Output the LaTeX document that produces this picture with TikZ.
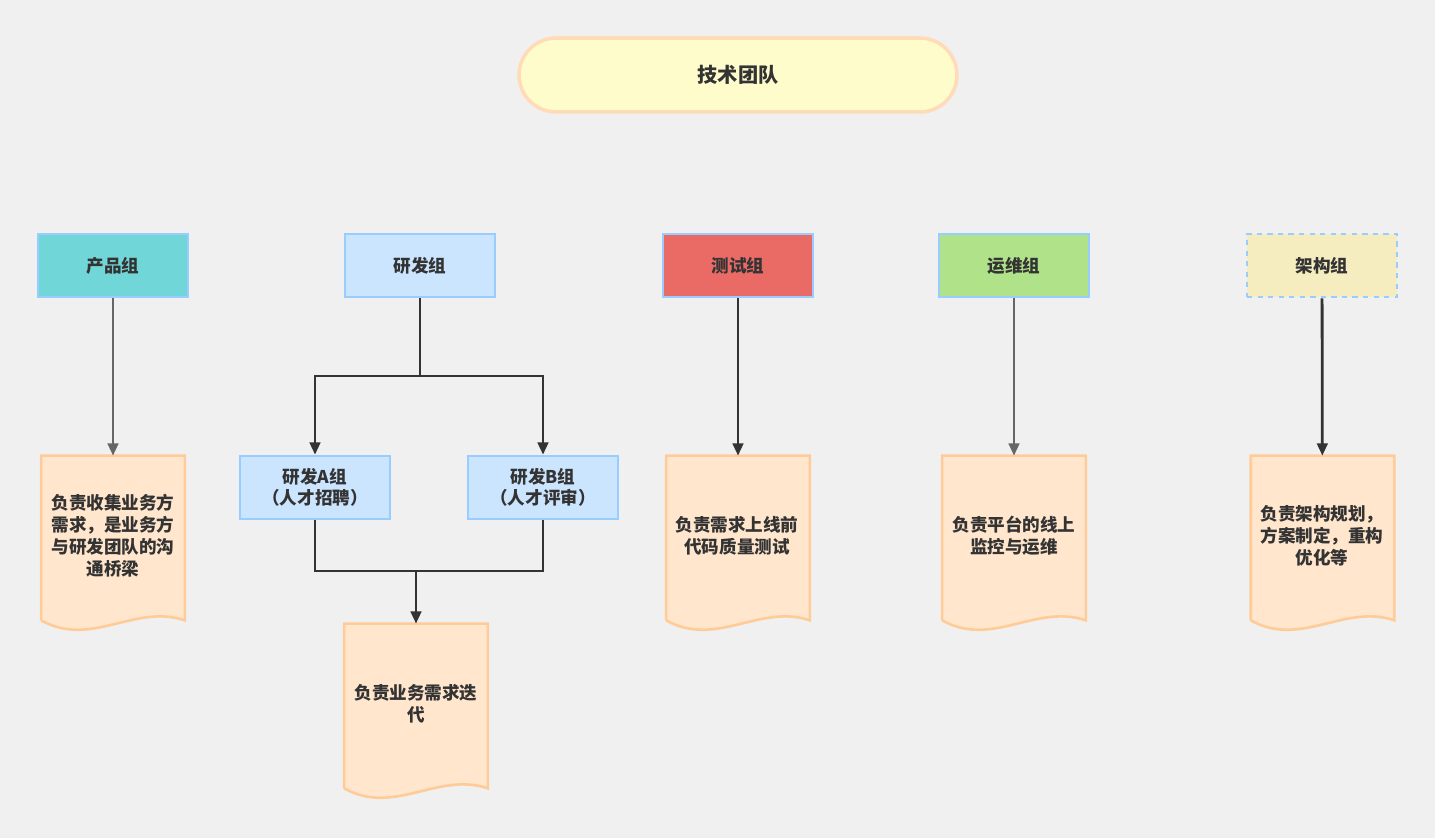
\documentclass[tikz,border=0pt]{standalone}
\usepackage{fontspec}
\setmainfont{Noto Sans CJK SC}
\usetikzlibrary{positioning,arrows.meta,calc}
\definecolor{bgc}{HTML}{F0F0F0}
\definecolor{txt}{HTML}{333333}
\definecolor{blueline}{HTML}{99CCFF}
\definecolor{docfill}{HTML}{FFE6CC}
\definecolor{docline}{HTML}{FFCC99}
\tikzset{
  box/.style={draw=blueline, line width=1.5pt, minimum width=3cm, minimum height=1.26cm,
    font=\bfseries\fontsize{10}{12}\selectfont, text=txt, align=center},
  doc/.style={minimum width=2.86cm, minimum height=3.54cm, inner sep=0pt},
  doctext/.style={text=txt, font=\bfseries\fontsize{10}{12.5}\selectfont, align=center},
  link/.style={line width=1.6pt, -{Triangle[length=7pt,width=6pt]}},
}
\newcommand{\docpath}[1]{%
  \fill[docfill] (#1.north west) -- (#1.north east) -- ($(#1.south east)+(0,-13)$)
    .. controls ($(#1.south east)+(-50,-30)$) and ($(#1.south west)+(50,15)$) .. ($(#1.south west)+(0,-13)$) -- cycle;
  \draw[docline, line width=1.5pt] ($(#1.south west)+(0,-13)$) -- (#1.north west) -- (#1.north east) -- ($(#1.south east)+(0,-13)$)
    .. controls ($(#1.south east)+(-50,-30)$) and ($(#1.south west)+(50,15)$) .. ($(#1.south west)+(0,-13)$);}
\begin{document}
\begin{tikzpicture}[x=0.02cm,y=-0.02cm]
\fill[bgc] (0,0) rectangle (1435,838);
\useasboundingbox (0,0) rectangle (1435,838);

% title
\node[draw=docline!70, line width=2pt, fill=yellow!20, rounded corners=0.74cm,
  minimum width=8.76cm, minimum height=1.48cm, text=txt,
  font=\bfseries\fontsize{11.5}{13}\selectfont] (team) at (738,75) {技术团队};

% groups
\node[box, fill={rgb,255:red,112;green,214;blue,216}] (prod) at (113,265.5) {产品组};
\node[box, fill={rgb,255:red,204;green,229;blue,255}] (dev) at (420,265.5) {研发组};
\node[box, fill={rgb,255:red,234;green,107;blue,102}] (test) at (738,265.5) {测试组};
\node[box, fill={rgb,255:red,176;green,226;blue,138}] (ops) at (1014,265.5) {运维组};
\node[box, dashed, fill={rgb,255:red,245;green,237;blue,192}] (arch) at (1322,265.5) {架构组};

\node[box, fill={rgb,255:red,204;green,229;blue,255}] (devA) at (315,487.5) {研发A组\\（人才招聘）};
\node[box, fill={rgb,255:red,204;green,229;blue,255}] (devB) at (543,487.5) {研发B组\\（人才评审）};

% documents
\node[doc] (prodDoc) at (113,544.5) {}; \docpath{prodDoc}
\node[doctext] (prodTxt) at (113,536) {负责收集业务方\\需求，是业务方\\与研发团队的沟\\通桥梁};
\node[doc] (devDoc) at (416,712.5) {}; \docpath{devDoc}
\node[doctext] (devTxt) at (416,704) {负责业务需求迭\\代};
\node[doc] (testDoc) at (738,544.5) {}; \docpath{testDoc}
\node[doctext] (testTxt) at (737,536) {负责需求上线前\\代码质量测试};
\node[doc] (opsDoc) at (1014,544.5) {}; \docpath{opsDoc}
\node[doctext] (opsTxt) at (1014,536) {负责平台的线上\\监控与运维};
\node[doc] (archDoc) at (1322.5,544.5) {}; \docpath{archDoc}
\node[doctext] (archTxt) at (1322,536) {负责架构规划，\\方案制定，重构\\优化等};

% connectors
\coordinate (split) at (420,376);
\coordinate (merge) at (416,571);
\draw[link, black!60] (prod) -- (prodDoc);
\draw[link, black!80] (test) -- (testDoc);
\draw[link, black!60] (ops) -- (opsDoc);
\draw[link, black!80] (arch) -- (archDoc);
\draw[line width=1.6pt, black!80] (dev) -- (split);
\draw[link, black!80] (split) -| (devA);
\draw[link, black!80] (split) -| (devB);
\draw[line width=1.5pt, black!80] (devA) |- (merge);
\draw[line width=1.5pt, black!80] (devB) |- (merge);
\draw[link, black!80] (merge) -- (devDoc);
\end{tikzpicture}
\end{document}
